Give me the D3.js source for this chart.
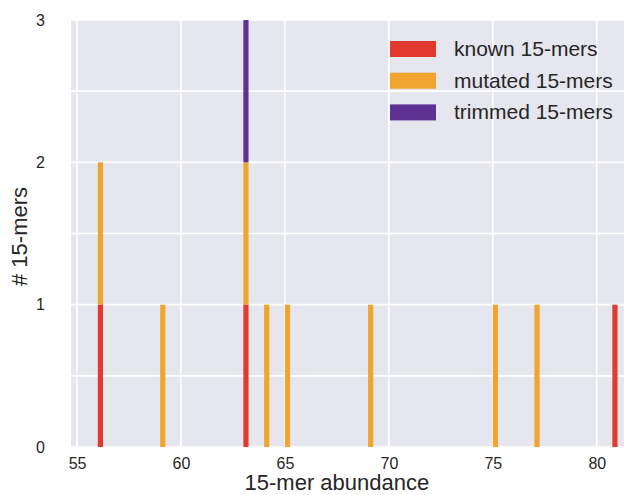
<!DOCTYPE html>
<html>
<head>
<meta charset="utf-8">
<script src="https://cdn.jsdelivr.net/npm/d3@7"></script>
<style>
  body { margin: 0; background: #fff; }
  text { font-family: "Liberation Sans", Arial, Helvetica, sans-serif; fill: #262626; }
</style>
</head>
<body>
<svg width="636" height="495"></svg>
<script>
// abundance of each 15-mer, per group
const knownAbundance = [56, 63, 81]
const mutatedAbundance = [56, 59, 63, 64, 65, 69, 75, 77]
const trimmedAbundance = [63]

const groups = ['known 15-mers', 'mutated 15-mers', 'trimmed 15-mers']
const colors = ['#e23a2e', '#f0a530', '#5e3293']
const xTicks = [55, 60, 65, 70, 75, 80]
const yTicks = [0, 1, 2, 3]

const svg = d3.select('svg')
const margin = {top: 20, right: 12, bottom: 48, left: 71}
const width = +svg.attr('width')
const height = +svg.attr('height')
const innerWidth = width - margin.left - margin.right
const innerHeight = height - margin.top - margin.bottom

const xScale = d3.scaleLinear().domain([54.71, 81.31]).range([0, innerWidth])
const yScale = d3.scaleLinear().domain([0, 3]).range([innerHeight, 0])

// 100 bins of 0.25 between 56 and 81, like the original histogram
const bin = d3.bin().domain([56, 81]).thresholds(d3.range(56.25, 81, 0.25))
const series = [knownAbundance, mutatedAbundance, trimmedAbundance].map(a => bin(a))
const rows = series[0].map((b, i) => {
    const r = {x0: b.x0, x1: b.x1}
    groups.forEach((g, j) => { r[g] = series[j][i].length })
    return r
})
const stacked = d3.stack().keys(groups)(rows)

const g = svg.append('g')
    .attr('transform', `translate(${margin.left},${margin.top})`)

g.append('rect')
    .attr('width', innerWidth)
    .attr('height', innerHeight)
    .attr('fill', '#e6e6ef')

// grid
g.selectAll('.hgrid').data(d3.range(0, 3.01, 0.5))
  .enter().append('line')
    .attr('x1', 0).attr('x2', innerWidth)
    .attr('y1', d => yScale(d)).attr('y2', d => yScale(d))
    .attr('stroke', '#fff').attr('stroke-width', 1.6)
g.selectAll('.vgrid').data(xTicks)
  .enter().append('line')
    .attr('x1', d => xScale(d)).attr('x2', d => xScale(d))
    .attr('y1', 0).attr('y2', innerHeight)
    .attr('stroke', '#fff').attr('stroke-width', 1.6)

// bars
stacked.forEach((s, j) => {
    g.append('g').selectAll('rect')
      .data(s.filter(d => d[1] > d[0]))
      .enter().append('rect')
        .attr('x', d => xScale(d.data.x0))
        .attr('width', d => xScale(d.data.x1) - xScale(d.data.x0))
        .attr('y', d => yScale(d[1]))
        .attr('height', d => yScale(d[0]) - yScale(d[1]))
        .attr('fill', colors[j])
})

// axes
const xAxis = d3.axisBottom(xScale).tickValues(xTicks).tickSize(0).tickPadding(11)
const yAxis = d3.axisLeft(yScale).tickValues(yTicks).tickFormat(d3.format('d')).tickSize(0).tickPadding(26)

g.append('g').attr('transform', `translate(0,${innerHeight})`).call(xAxis)
    .call(a => a.select('.domain').remove())
    .selectAll('text').attr('font-size', 16).attr('fill', '#262626')
g.append('g').call(yAxis)
    .call(a => a.select('.domain').remove())
    .selectAll('text').attr('font-size', 16).attr('fill', '#262626')

svg.append('text')
    .attr('x', margin.left + xScale(67.5))
    .attr('y', 490)
    .attr('text-anchor', 'middle')
    .attr('font-size', 22)
    .text('15-mer abundance')

svg.append('text')
    .attr('transform', `translate(27,${margin.top + innerHeight / 2 + 3}) rotate(-90)`)
    .attr('text-anchor', 'middle')
    .attr('font-size', 22)
    .text('# 15-mers')

// legend
const legend = g.append('g').attr('transform', `translate(${390 - margin.left},${41 - margin.top})`)
groups.forEach((name, i) => {
    const row = legend.append('g').attr('transform', `translate(0,${i * 31.7})`)
    row.append('rect').attr('width', 46).attr('height', 16).attr('fill', colors[i])
    row.append('text').attr('x', 64).attr('y', 15).attr('font-size', 21).text(name)
})
</script>
</body>
</html>
